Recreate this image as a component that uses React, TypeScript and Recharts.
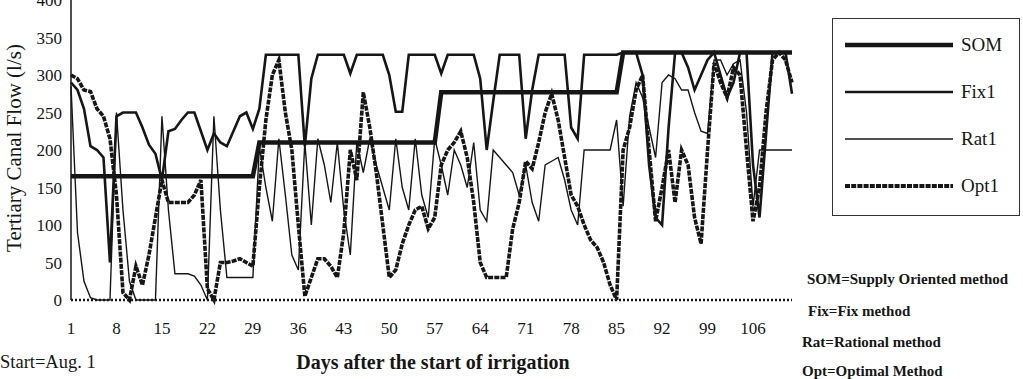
import { Line, LineChart, XAxis, YAxis } from "recharts";

const SERIF = "'Liberation Serif', 'Times New Roman', serif";
const INK = "#161616";

const DAY_TICKS = [1, 8, 15, 22, 29, 36, 43, 50, 57, 64, 71, 78, 85, 92, 99, 106];
const FLOW_TICKS = [0, 50, 100, 150, 200, 250, 300, 350, 400];

// daily values, day 1 .. 112 (l/s)
const SOM = [
  165, 165, 165, 165, 165, 165, 165, 165, 165, 165, 165, 165, 165, 165, 165, 165, 165, 165, 165, 165,
  165, 165, 165, 165, 165, 165, 165, 165, 165, 210, 210, 210, 210, 210, 210, 210, 210, 210, 210, 210,
  210, 210, 210, 210, 210, 210, 210, 210, 210, 210, 210, 210, 210, 210, 210, 210, 210, 277, 277, 277,
  277, 277, 277, 277, 277, 277, 277, 277, 277, 277, 277, 277, 277, 277, 277, 277, 277, 277, 277, 277,
  277, 277, 277, 277, 277, 330, 330, 330, 330, 330, 330, 330, 330, 330, 330, 330, 330, 330, 330, 330,
  330, 330, 330, 330, 330, 330, 330, 330, 330, 330, 330, 330,
];

const FIX1 = [
  290, 280, 255, 205, 200, 190, 50, 245, 250, 250, 250, 230, 207, 195, 160, 225, 228, 240, 250, 250,
  225, 200, 222, 210, 205, 225, 245, 250, 228, 255, 327, 327, 327, 327, 327, 327, 205, 295, 327, 327,
  327, 327, 327, 302, 327, 327, 327, 327, 327, 300, 251, 251, 327, 327, 327, 327, 327, 302, 327, 327,
  327, 327, 327, 295, 200, 265, 327, 327, 327, 327, 215, 280, 327, 327, 327, 327, 327, 230, 215, 327,
  327, 327, 327, 327, 327, 330, 330, 330, 300, 180, 110, 100, 230, 330, 330, 310, 280, 300, 320, 330,
  300, 270, 290, 330, 330, 180, 110, 220, 330, 330, 330, 275,
];

const RAT1 = [
  285, 90, 25, 3, 0, 0, 0, 250, 120, 25, 0, 0, 0, 0, 245, 120, 35, 35, 35, 32,
  20, 0, 245, 120, 30, 30, 30, 30, 30, 205, 150, 105, 215, 140, 60, 40, 210, 100, 215, 180,
  130, 210, 120, 60, 210, 170, 215, 180, 150, 120, 215, 150, 120, 215, 140, 110, 215, 180, 140, 200,
  180, 150, 210, 120, 105, 200, 190, 180, 170, 140, 180, 130, 105, 180, 185, 190, 160, 120, 100, 200,
  200, 200, 200, 200, 240, 125, 245, 290, 270, 230, 190, 290, 300, 295, 280, 280, 250, 225, 222, 320,
  320, 300, 315, 320, 250, 125, 200, 200, 200, 200, 200, 200,
];

const OPT1 = [
  300, 295, 280, 278, 255, 245, 215, 140, 10, 0, 45, 20, 60, 110, 160, 130, 130, 130, 130, 140,
  160, 15, 0, 50, 50, 52, 55, 50, 45, 150, 240, 300, 320, 250, 200, 100, 5, 30, 55, 55,
  45, 30, 90, 200, 160, 277, 230, 170, 100, 30, 40, 75, 100, 120, 125, 95, 110, 180, 200, 210,
  225, 190, 130, 50, 30, 30, 30, 30, 95, 130, 185, 175, 210, 250, 275, 240, 190, 140, 125, 100,
  80, 70, 50, 20, 0, 200, 230, 280, 300, 200, 105, 150, 200, 130, 200, 180, 110, 75, 200, 316,
  290, 270, 310, 300, 200, 105, 150, 250, 320, 330, 320, 290,
];

const DAYS = SOM.map((_, i) => i + 1);

type Row = { day: number; som: number; fix1: number; rat1: number; opt1: number };

const rows: Row[] = DAYS.map((day, i) => ({
  day,
  som: SOM[i],
  fix1: FIX1[i],
  rat1: RAT1[i],
  opt1: OPT1[i],
}));

const OPT_DASH = "5 1.2";

const LEGEND = [
  { label: "SOM", width: 4.5, dash: undefined as string | undefined },
  { label: "Fix1", width: 2.6, dash: undefined as string | undefined },
  { label: "Rat1", width: 1.4, dash: undefined as string | undefined },
  { label: "Opt1", width: 4, dash: OPT_DASH },
];

const NOTES = [
  { text: "SOM=Supply Oriented method", left: 807, top: 269 },
  { text: "Fix=Fix method", left: 808, top: 301 },
  { text: "Rat=Rational method", left: 802, top: 332 },
  { text: "Opt=Optimal Method", left: 802, top: 361 },
];

export default function App() {
  const tick = { fontSize: 17, fill: INK, fontFamily: SERIF };

  return (
    <div
      style={{
        position: "absolute",
        left: 0,
        top: 0,
        width: 1023,
        height: 379,
        overflow: "hidden",
        background: "#fff",
        fontFamily: SERIF,
        color: INK,
      }}
    >
      <LineChart
        width={1023}
        height={379}
        data={rows}
        margin={{ top: 0, right: 231, bottom: 0, left: 0 }}
      >
        <XAxis
          type="number"
          dataKey="day"
          domain={[1, 112]}
          ticks={DAY_TICKS}
          interval={0}
          tickSize={0}
          tickMargin={22}
          tickLine={false}
          axisLine={{ stroke: INK, strokeWidth: 2.5, strokeDasharray: "2 2" }}
          tick={tick}
          height={79}
        />
        <YAxis
          type="number"
          domain={[0, 400]}
          ticks={FLOW_TICKS}
          interval={0}
          width={71}
          tickSize={0}
          tickMargin={9}
          tickLine={false}
          axisLine={{ stroke: INK, strokeWidth: 1.5 }}
          tick={tick}
        />
        <Line
          type="linear"
          dataKey="rat1"
          stroke={INK}
          strokeWidth={1.4}
          dot={false}
          isAnimationActive={false}
        />
        <Line
          type="linear"
          dataKey="opt1"
          stroke={INK}
          strokeWidth={3.6}
          strokeDasharray={OPT_DASH}
          dot={false}
          isAnimationActive={false}
        />
        <Line
          type="linear"
          dataKey="fix1"
          stroke={INK}
          strokeWidth={2.6}
          dot={false}
          isAnimationActive={false}
        />
        <Line
          type="linear"
          dataKey="som"
          stroke={INK}
          strokeWidth={4.5}
          dot={false}
          isAnimationActive={false}
        />
      </LineChart>

      <div
        style={{
          position: "absolute",
          left: 14,
          top: 148,
          transform: "translate(-50%, -50%) rotate(-90deg)",
          fontSize: 21,
          whiteSpace: "nowrap",
        }}
      >
        Tertiary Canal Flow (l/s)
      </div>

      <div
        style={{
          position: "absolute",
          left: 433,
          top: 362,
          transform: "translate(-50%, -50%)",
          fontSize: 20,
          fontWeight: "bold",
          whiteSpace: "nowrap",
        }}
      >
        Days after the start of irrigation
      </div>

      <div
        style={{
          position: "absolute",
          left: 0,
          top: 362,
          transform: "translateY(-50%)",
          fontSize: 18.5,
          whiteSpace: "nowrap",
        }}
      >
        Start=Aug. 1
      </div>

      <div
        style={{
          position: "absolute",
          left: 832,
          top: 18,
          width: 186,
          height: 196,
          border: "1.5px solid #333",
        }}
      >
        {LEGEND.map((item, i) => (
          <div
            key={item.label}
            style={{
              position: "absolute",
              left: 12,
              top: 26 + i * 47 - 12,
              height: 24,
              display: "flex",
              alignItems: "center",
            }}
          >
            <svg width={110} height={10}>
              <line
                x1={0}
                y1={5}
                x2={108}
                y2={5}
                stroke={INK}
                strokeWidth={item.width}
                strokeDasharray={item.dash}
              />
            </svg>
            <span style={{ fontSize: 19, marginLeft: 6 }}>{item.label}</span>
          </div>
        ))}
      </div>

      {NOTES.map((n) => (
        <div
          key={n.text}
          style={{
            position: "absolute",
            left: n.left,
            top: n.top,
            fontSize: 15,
            fontWeight: "bold",
            whiteSpace: "nowrap",
            lineHeight: "20px",
          }}
        >
          {n.text}
        </div>
      ))}
    </div>
  );
}
